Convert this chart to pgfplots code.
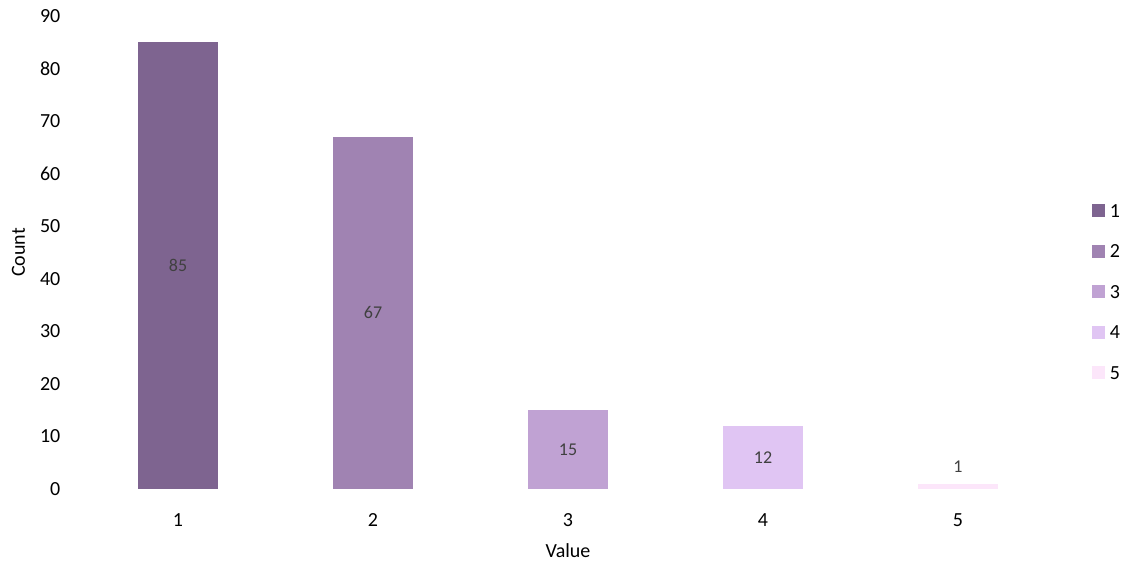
\documentclass[border=0pt]{standalone}
\usepackage{fontspec}
\setmainfont{Carlito}
\usepackage{pgfplots}
\pgfplotsset{compat=1.18}
\definecolor{c1}{HTML}{7E6490}
\definecolor{c2}{HTML}{A083B2}
\definecolor{c3}{HTML}{C0A2D3}
\definecolor{c4}{HTML}{E0C5F3}
\definecolor{c5}{HTML}{FCE6FA}
\definecolor{lbl}{HTML}{404040}
\begin{document}
\begin{tikzpicture}
\useasboundingbox (-80.5pt,-78pt) rectangle (1054.5pt,489pt);
\begin{axis}[
  at={(0pt,0pt)}, anchor=south west,
  scale only axis, width=975pt, height=473pt,
  xmin=0.5, xmax=5.5, ymin=0, ymax=90,
  xtick={1,2,3,4,5}, ytick={0,10,...,90},
  axis line style={draw=none}, major tick length=0pt, tick style={draw=none},
  ticklabel style={font=\fontsize{20}{24}\selectfont, text=black},
  /pgf/number format/assume math mode=true,
  yticklabel style={anchor=east, inner sep=0pt, xshift=-20pt},
  xticklabel style={anchor=base, inner sep=0pt, yshift=-38pt},
  xlabel={Value}, ylabel={Count},
  every axis x label/.style={at={(axis description cs:0.5,0)}, anchor=center, yshift=-62pt, font=\fontsize{20}{24}\selectfont},
  every axis y label/.style={at={(axis description cs:0,0.5)}, rotate=90, anchor=center, yshift=62pt, font=\fontsize{20}{24}\selectfont},
  ybar, bar width=80pt, bar shift=0pt,
  every axis plot/.append style={draw=none},
  visualization depends on=rawy \as \rawy,
  nodes near coords,
  every node near coord/.append style={font=\fontsize{18}{22}\selectfont, text=lbl, anchor=center, shift={(axis direction cs:0,-\rawy/2)}},
  legend style={at={(1.037,0.4165)}, anchor=west, draw=none, fill=none, inner sep=0pt,
    font=\fontsize{20}{24}\selectfont, row sep=23.5pt,
    nodes={inner sep=2pt, text height=13pt, text depth=0pt}},
  legend image code/.code={\fill[#1,draw=none] (0pt,-6.5pt) rectangle (13pt,6.5pt); \path (16pt,0pt);},
  clip=false,
]
\addplot[fill=c1] coordinates {(1,85)};
\addplot[fill=c2] coordinates {(2,67)};
\addplot[fill=c3] coordinates {(3,15)};
\addplot[fill=c4] coordinates {(4,12)};
\addplot[fill=c5, every node near coord/.append style={shift={(axis direction cs:0,\rawy/2)}, yshift=17pt}] coordinates {(5,1)};
\legend{1,2,3,4,5}
\end{axis}
\end{tikzpicture}
\end{document}
